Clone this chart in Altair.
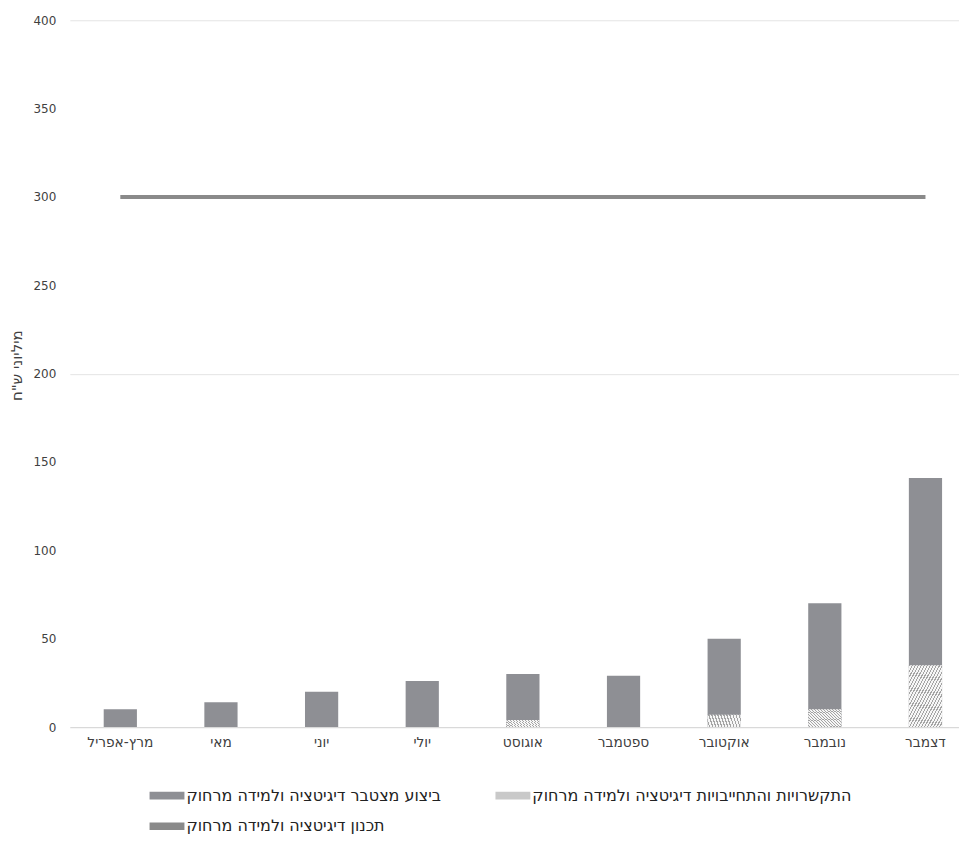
import altair as alt
import pandas as pd

# ---- data ----
months = ["מרץ-אפריל", "מאי", "יוני", "יולי", "אוגוסט", "ספטמבר", "אוקטובר", "נובמבר", "דצמבר"]
cumulative = [10, 14, 20, 26, 30, 29, 50, 70, 141]          # ביצוע מצטבר
commitments = [0, 0, 0, 0, 4, 0, 7, 10, 35]                  # התקשרויות והתחייבויות
planned = [300, 300, 300, 300, 300, 300, 300, 300, 300]      # תכנון

lbl_cum = "ביצוע מצטבר דיגיטציה ולמידה מרחוק"
lbl_com = "התקשרויות והתחייבויות דיגיטציה ולמידה מרחוק"
lbl_plan = "תכנון דיגיטציה ולמידה מרחוק"
legend_order = [lbl_cum, lbl_plan, lbl_com]
legend_colors = ["#8e8f94", "#8a8a8a", "#c9c9c9"]

y_title = 'מיליוני ש"ח'
y_ticks = [0, 50, 100, 150, 200, 250, 300, 350, 400]

df = pd.DataFrame({
    "month": months,
    "cum": cumulative,
    "com": commitments,
    "plan": planned,
    "s_cum": lbl_cum,
})

FONT = "DejaVu Sans, Liberation Sans, sans-serif"
TXT = "#404040"

# hatch-like fill: many hard-stop diagonal stripes
stops = []
n_per = 22
for i in range(n_per):
    a = i / n_per
    m = (i + 0.38) / n_per
    b = (i + 1) / n_per
    stops += [
        alt.GradientStop(color="#a4a4a4", offset=a),
        alt.GradientStop(color="#a4a4a4", offset=m),
        alt.GradientStop(color="#f6f6f6", offset=m),
        alt.GradientStop(color="#f6f6f6", offset=b),
    ]
hatch = alt.LinearGradient(gradient="linear", stops=stops, x1=0, y1=0, x2=1, y2=1)

x_scale = alt.Scale(paddingInner=0.67, paddingOuter=0.2525, align=0.667)
x_axis = alt.Axis(
    labelAngle=0, ticks=False, domainColor="#d9d9d9", domainWidth=1.2,
    labelFontSize=13.8, labelColor=TXT, labelFont=FONT, labelPadding=9,
    labelLimit=200,
)

y_scale = alt.Scale(domain=[0, 400], nice=False)
y_axis = alt.Axis(
    values=y_ticks, title=y_title, domain=False, ticks=False,
    labelFontSize=12, labelColor=TXT, labelFont=FONT, labelPadding=14,
    titleFontSize=15, titleColor=TXT, titleFont=FONT, titleFontWeight="normal",
    titlePadding=9, titleY=346,
    gridColor={"condition": {"test": "datum.value === 200 || datum.value === 400",
                             "value": "#e4e4e4"},
               "value": "rgba(0,0,0,0)"},
    gridWidth=1,
)

color_scale = alt.Scale(domain=legend_order, range=legend_colors)
legend = alt.Legend(
    title=None, orient="none", legendX=80, legendY=760, columns=2,
    symbolType="M-1,-0.22H1V0.22H-1Z", symbolSize=1225, symbolStrokeWidth=0,
    labelFontSize=16, labelColor="#222222", labelFont=FONT, labelLimit=600,
    columnPadding=54, rowPadding=5, labelOffset=2,
)

base = alt.Chart(df)

bars = base.mark_bar().encode(
    x=alt.X("month:N", sort=months, title=None, scale=x_scale, axis=x_axis),
    y=alt.Y("cum:Q", scale=y_scale, axis=y_axis),
    color=alt.Color("s_cum:N", scale=color_scale, legend=legend),
)

hatched = base.mark_bar(fill=hatch).encode(
    x=alt.X("month:N", sort=months, title=None, scale=x_scale, axis=x_axis),
    y=alt.Y("com:Q", scale=y_scale, axis=y_axis),
)

line = base.mark_line(strokeWidth=4, stroke=legend_colors[1]).encode(
    x=alt.X("month:N", sort=months, title=None, scale=x_scale, axis=x_axis),
    y=alt.Y("plan:Q", scale=y_scale, axis=y_axis),
)

chart = alt.layer(bars, hatched, line).properties(
    width=892, height=709,
    background="white",
    autosize=alt.AutoSizeParams(type="none"),
    padding={"left": 62, "top": 11, "right": 0, "bottom": 108},
).configure_view(stroke="transparent", strokeWidth=0).configure_axisY(
    domain=False, ticks=False
)

chart.save("out.html", embed_options={"renderer": "svg", "actions": False})
